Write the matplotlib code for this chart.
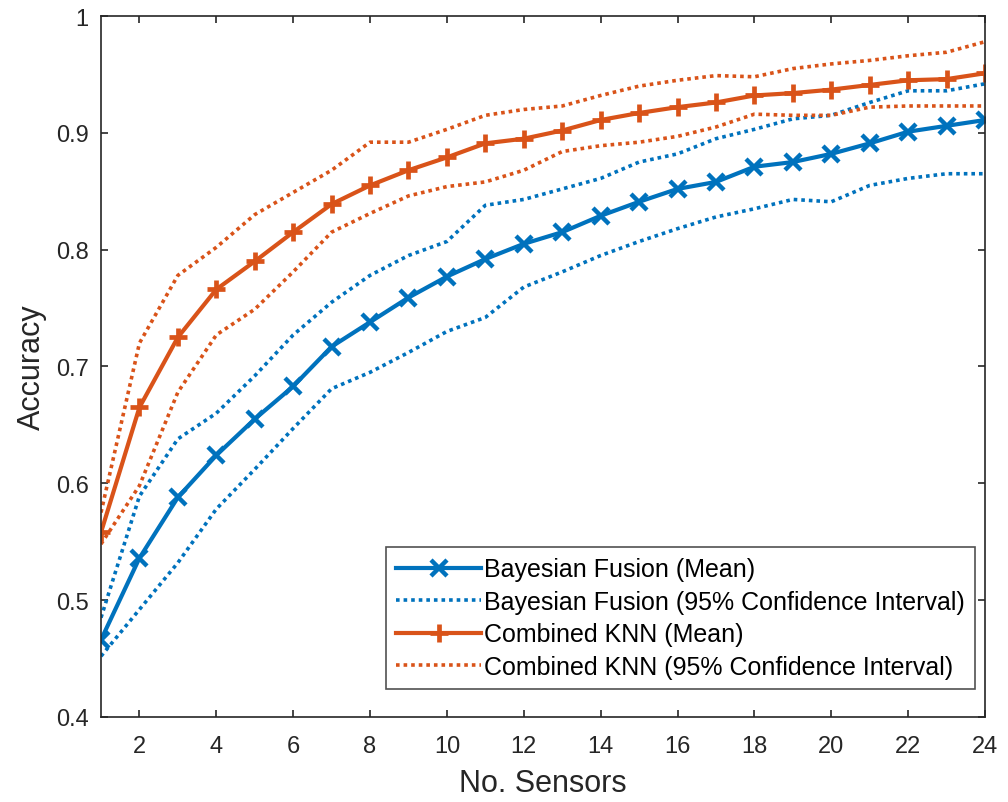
import numpy as np
import matplotlib.pyplot as plt
from matplotlib.ticker import FormatStrFormatter

n_sensors = np.arange(1, 25)

bayes_mean = [0.466, 0.536, 0.588, 0.624, 0.655, 0.683, 0.717, 0.738, 0.759, 0.777, 0.792, 0.805,
              0.815, 0.829, 0.841, 0.852, 0.858, 0.871, 0.875, 0.882, 0.891, 0.901, 0.906, 0.911]
bayes_upper = [0.485, 0.589, 0.638, 0.660, 0.692, 0.727, 0.755, 0.778, 0.795, 0.807, 0.838, 0.843,
               0.852, 0.861, 0.875, 0.882, 0.895, 0.903, 0.912, 0.915, 0.926, 0.936, 0.936, 0.942]
bayes_lower = [0.452, 0.492, 0.532, 0.578, 0.612, 0.647, 0.681, 0.695, 0.712, 0.730, 0.742, 0.768,
               0.781, 0.795, 0.807, 0.818, 0.828, 0.835, 0.843, 0.841, 0.855, 0.861, 0.865, 0.865]
knn_mean = [0.558, 0.665, 0.725, 0.766, 0.790, 0.815, 0.839, 0.855, 0.868, 0.879, 0.891, 0.895,
            0.902, 0.911, 0.917, 0.922, 0.926, 0.932, 0.934, 0.937, 0.941, 0.945, 0.946, 0.951]
knn_upper = [0.575, 0.720, 0.778, 0.802, 0.830, 0.849, 0.868, 0.892, 0.892, 0.903, 0.915, 0.920,
             0.923, 0.932, 0.940, 0.945, 0.949, 0.948, 0.955, 0.959, 0.962, 0.966, 0.969, 0.978]
knn_lower = [0.548, 0.598, 0.678, 0.727, 0.749, 0.781, 0.815, 0.831, 0.846, 0.854, 0.858, 0.868,
             0.884, 0.889, 0.892, 0.897, 0.905, 0.916, 0.915, 0.915, 0.922, 0.923, 0.923, 0.923]

BLUE = '#0072BD'
ORANGE = '#D95319'
DARK = '#262626'
DOT = (0, (1, 1.1))

plt.rcParams['font.family'] = ['Liberation Sans', 'DejaVu Sans']

fig = plt.figure(figsize=(10.08, 8.03), dpi=100)
ax = fig.add_axes([0.1002, 0.1059, 0.8770, 0.8729])

ax.plot(n_sensors, bayes_mean, '-x', color=BLUE, lw=3, ms=11, mew=3.2,
        label='Bayesian Fusion (Mean)')
ax.plot(n_sensors, bayes_upper, linestyle=DOT, color=BLUE, lw=2.6,
        label='Bayesian Fusion (95% Confidence Interval)')
ax.plot(n_sensors, bayes_lower, linestyle=DOT, color=BLUE, lw=2.6)
ax.plot(n_sensors, knn_mean, '-+', color=ORANGE, lw=3, ms=13, mew=3.4,
        label='Combined KNN (Mean)')
ax.plot(n_sensors, knn_upper, linestyle=DOT, color=ORANGE, lw=2.6,
        label='Combined KNN (95% Confidence Interval)')
ax.plot(n_sensors, knn_lower, linestyle=DOT, color=ORANGE, lw=2.6)

ax.set_xlim(1, 24)
ax.set_ylim(0.4, 1)
ax.set_xticks(np.arange(2, 25, 2))
ax.set_yticks(np.arange(0.4, 1.01, 0.1))
ax.yaxis.set_major_formatter(FormatStrFormatter('%g'))
ax.tick_params(direction='in', length=5, width=1.2, top=True, right=True,
               labelsize=17, colors=DARK)
ax.tick_params(axis='x', pad=13)
ax.tick_params(axis='y', pad=9)
for sp in ax.spines.values():
    sp.set_color(DARK)
    sp.set_linewidth(1.2)

ax.set_xlabel('No. Sensors', fontsize=22, color=DARK, labelpad=8)
ax.set_ylabel('Accuracy', fontsize=22, color=DARK, labelpad=6)

leg = ax.legend(loc='lower right', bbox_to_anchor=(0.9887, 0.04), fontsize=18,
                frameon=True, fancybox=False, handlelength=3.4, borderaxespad=0,
                labelspacing=0.34, handletextpad=0.12, borderpad=0.4)
leg.get_frame().set_edgecolor(DARK)
leg.get_frame().set_linewidth(1.2)

fig.savefig('out.png', dpi=100)
